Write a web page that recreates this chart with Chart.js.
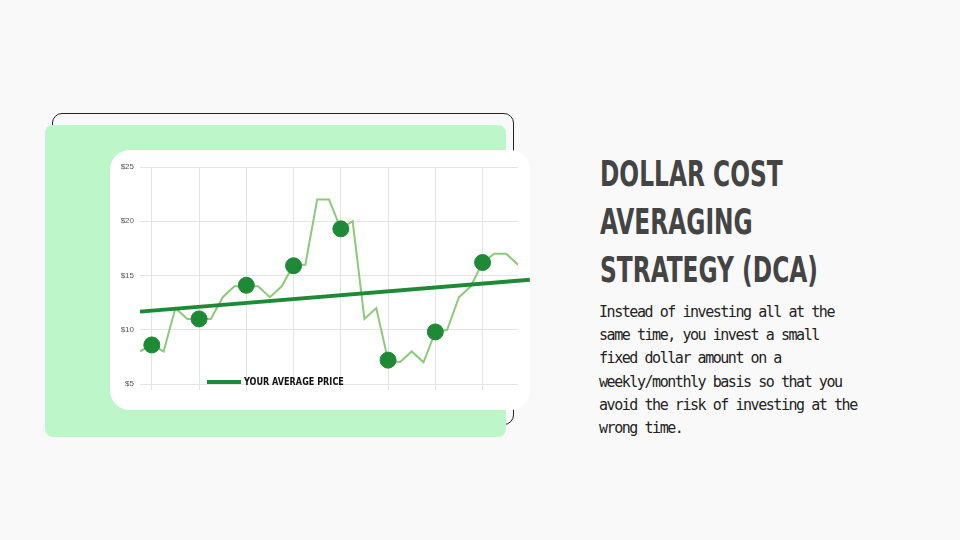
<!DOCTYPE html>
<html><head><meta charset="utf-8">
<script src="https://cdn.jsdelivr.net/npm/chart.js@4"></script>
<style>
body{margin:0;width:960px;height:540px;background:#f9f9f9;position:relative;overflow:hidden;font-family:"DejaVu Sans Mono",monospace}
.outline{position:absolute;left:52px;top:113px;width:460px;height:310px;border:1px solid #222;border-radius:10px}
.green{position:absolute;left:45px;top:125px;width:461px;height:312px;background:#bdf7c9;border-radius:8px}
.card{position:absolute;left:110px;top:150px;width:420px;height:260px;background:#fff;border-radius:20px}
#wrap{position:absolute;left:110px;top:150px;width:420px;height:260px}
.legend{position:absolute;left:207px;top:375px;display:flex;align-items:center}
.legend .ln{width:34px;height:4px;background:#1e8a36;margin-right:3px}
.legend span{font-family:"DejaVu Sans Condensed";font-weight:bold;font-size:11px;color:#111;display:inline-block;transform:scaleX(0.82);transform-origin:left}
h1{position:absolute;left:600px;top:150px;margin:0;font-family:"DejaVu Sans Condensed";font-weight:bold;font-size:36px;line-height:48px;color:#444;transform:scaleX(0.72);transform-origin:left top;width:400px}
p{position:absolute;left:599px;top:301px;margin:0;width:264px;font-size:15px;line-height:23.2px;letter-spacing:-1.45px;color:#222}
</style></head><body>
<div class="outline"></div><div class="green"></div><div class="card"></div>
<div id="wrap"><canvas id="c"></canvas></div>
<div class="legend"><div class="ln"></div><span>YOUR AVERAGE PRICE</span></div>
<h1>DOLLAR COST<br>AVERAGING<br>STRATEGY (DCA)</h1>
<p>Instead of investing all at the same time, you invest a small fixed dollar amount on a weekly/monthly basis so that you avoid the risk of investing at the wrong time.</p>
<script>
const priceX=[-1,0,1,2,3,4,5,6,7,8,9,10,11,12,13,14,15,16,17,18,19,20,21,22,23,24,25,26,27,28,29,30,31];
const priceY=[8,8.6,8,12,11,11,11,13,14,14,14,13,14,16,16,22,22,19.3,20,11,12,7.2,7,8,7,9.8,10,13,14,16.2,17,17,16];
const buyX=[0,4,8,12,16,20,24,28];
const buyY=[8.6,11,14.1,15.9,19.3,7.2,9.8,16.2];
const avgX=[-1,32];
const avgY=[11.67,14.6];
const yTicks=[5,10,15,20,25];
const xGrid=[0,4,8,12,16,20,24,28];
const pts=(xs,ys)=>xs.map((x,i)=>({x,y:ys[i]}));
new Chart(document.getElementById('c'),{
type:'scatter',
data:{datasets:[
{data:pts(buyX,buyY),pointRadius:8,pointHoverRadius:8,backgroundColor:'#1e8a36',borderColor:'#1e8a36',order:0},
{data:pts(avgX,avgY),showLine:true,pointRadius:0,borderColor:'#1e8a36',borderWidth:4,clip:false,order:1},
{data:pts(priceX,priceY),showLine:true,pointRadius:0,borderColor:'#8cc97a',borderWidth:2,order:2}
]},
options:{responsive:true,maintainAspectRatio:false,animation:false,
layout:{padding:{top:17,right:12,bottom:20,left:0}},
plugins:{legend:{display:false},tooltip:{enabled:false}},
scales:{
x:{type:'linear',min:-1,max:31,afterBuildTicks:a=>{a.ticks=xGrid.map(v=>({value:v}))},ticks:{display:false},grid:{color:'#e4e4e4',drawTicks:true,tickLength:6},border:{display:false}},
y:{min:5,max:25,afterBuildTicks:a=>{a.ticks=yTicks.map(v=>({value:v}))},afterFit:a=>{a.width=30},ticks:{callback:v=>'$'+v,font:{size:8,family:'Liberation Sans'},color:'#555',padding:6},grid:{color:'#e4e4e4',drawTicks:false},border:{display:false}}
}}});
</script></body></html>
